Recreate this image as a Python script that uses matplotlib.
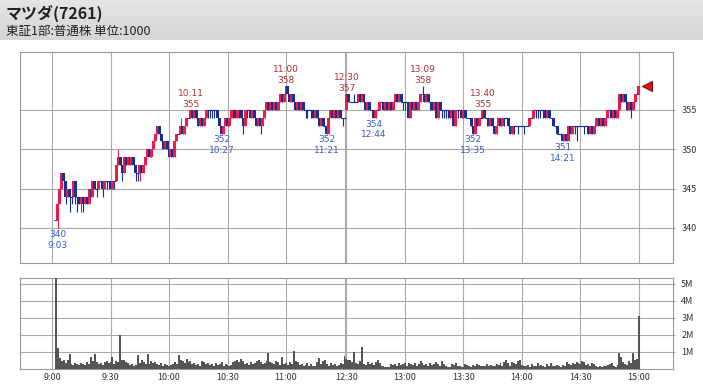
import numpy as np
import matplotlib.pyplot as plt

plt.rcParams['font.family'] = ['Noto Sans CJK JP', 'DejaVu Sans']

# ---- data: 1-minute bars, close prices (open = previous close) ----
# morning 9:02 .. 11:30
am_start = 2
am_open0 = 341
am_close = [341, 343, 345, 347, 346, 344, 345, 344, 344, 346, 344, 344, 343, 344, 343, 344, 343, 345,
            344, 346, 345, 345, 346, 346, 345, 346, 346, 346, 345, 346, 346, 348, 349, 348, 347, 349,
            348, 349, 348, 349, 348, 347, 347, 348, 347, 348, 349, 350, 349, 350, 351, 352, 353, 352,
            351, 350, 351, 350, 349, 350, 349, 351, 352, 352, 353, 352, 353, 354, 354, 355, 354, 355,
            354, 353, 354, 353, 354, 355, 355, 355, 355, 355, 355, 354, 353, 352, 353, 354, 353, 354,
            355, 355, 354, 355, 355, 354, 353, 355, 355, 355, 354, 355, 354, 353, 354, 353, 354, 355,
            356, 355, 356, 355, 356, 355, 356, 357, 356, 357, 358, 357, 356, 357, 356, 355, 356, 355,
            356, 355, 355, 355, 355, 355, 354, 355, 354, 353, 354, 353, 353, 352, 354, 355, 354, 355,
            354, 355, 354, 354, 354]
am_low = {3: 340, 7: 343, 9: 342, 10: 343, 12: 343, 13: 342, 15: 342, 16: 342, 23: 344, 26: 344,
          28: 345, 29: 345, 32: 345, 36: 346, 43: 346, 44: 346, 45: 346, 80: 354, 81: 354, 82: 354,
          83: 354, 93: 354, 96: 354, 98: 352, 100: 354, 107: 352, 130: 354, 131: 354, 133: 354, 149: 353}
am_high = {2: 342, 34: 350, 55: 353, 66: 354, 111: 356}

# afternoon 12:30 .. 15:00
pm_open0 = 355
pm_close = [357, 356, 356, 356, 356, 356, 357, 356, 357, 356, 355, 356, 355, 355, 354, 355, 355, 356,
            356, 355, 356, 355, 356, 355, 356, 357, 356, 357, 356, 356, 356, 356, 354, 356, 355, 356,
            355, 356, 357, 357, 356, 357, 356, 356, 355, 356, 354, 356, 355, 355, 355, 355, 355, 354,
            355, 353, 355, 355, 355, 354, 355, 354, 354, 354, 353, 352, 354, 353, 354, 354, 355, 354,
            354, 353, 354, 353, 352, 353, 354, 353, 354, 354, 354, 353, 352, 353, 353, 353, 353, 353,
            353, 353, 353, 353, 354, 354, 355, 355, 355, 355, 355, 355, 354, 355, 354, 354, 353, 353,
            352, 352, 352, 351, 352, 351, 353, 352, 353, 353, 353, 353, 353, 353, 353, 353, 352, 353,
            352, 353, 354, 354, 353, 354, 353, 354, 355, 355, 354, 355, 354, 355, 357, 356, 357, 356,
            355, 356, 355, 356, 357, 357, 358]
pm_low = {14: 354, 29: 355, 30: 355, 43: 355, 49: 354, 50: 354, 51: 354, 52: 354, 57: 354, 72: 353,
          81: 353, 86: 352, 88: 352, 91: 352, 97: 354, 98: 354, 99: 354, 101: 354, 117: 352, 118: 351,
          122: 352, 129: 353, 135: 354, 146: 354}
pm_high = {4: 357, 16: 356, 39: 358, 70: 355}

# volume, in 10k shares
am_vol = [620, 124, 65, 45, 55, 35, 55, 88, 30, 25, 35, 30, 25, 35, 30, 25, 40, 30, 70, 45, 88, 40, 30,
          35, 25, 40, 45, 35, 40, 70, 30, 45, 40, 200, 55, 50, 40, 35, 25, 30, 20, 25, 85, 35, 50, 40,
          30, 88, 30, 45, 35, 40, 30, 25, 35, 20, 30, 25, 15, 25, 30, 40, 30, 80, 50, 45, 35, 60, 40,
          45, 30, 35, 25, 30, 20, 45, 40, 30, 35, 25, 30, 20, 35, 25, 30, 40, 15, 30, 25, 20, 25, 40,
          45, 55, 40, 60, 45, 30, 35, 25, 40, 30, 35, 45, 50, 40, 30, 35, 45, 96, 40, 35, 30, 45, 40,
          25, 70, 30, 35, 25, 40, 30, 108, 45, 40, 25, 30, 20, 25, 35, 20, 30, 15, 20, 40, 65, 30, 45,
          55, 30, 20, 35, 25, 30, 20, 25, 35, 30, 75]
pm_vol = [60, 50, 55, 40, 100, 35, 30, 45, 127, 30, 25, 40, 30, 35, 25, 40, 55, 35, 20, 15, 10, 10, 10,
          30, 25, 30, 20, 35, 25, 30, 35, 20, 35, 30, 25, 35, 20, 30, 45, 35, 25, 30, 20, 35, 25, 30, 40,
          30, 20, 45, 30, 20, 10, 10, 30, 25, 35, 20, 15, 10, 10, 30, 25, 20, 10, 25, 20, 30, 25, 15, 20,
          15, 30, 20, 25, 15, 20, 30, 25, 35, 20, 40, 50, 35, 20, 40, 35, 30, 45, 50, 25, 20, 15, 25, 10,
          30, 20, 15, 35, 20, 25, 15, 10, 30, 20, 35, 20, 15, 25, 20, 10, 25, 20, 40, 30, 25, 35, 30, 40,
          35, 30, 45, 40, 25, 30, 20, 35, 30, 15, 10, 20, 10, 15, 20, 25, 30, 35, 20, 10, 25, 92, 70, 40,
          30, 25, 45, 35, 92, 50, 60, 314]

time_ticks = ['9:00', '9:30', '10:00', '10:30', '11:00', '', '12:30', '13:00', '13:30', '14:00', '14:30', '15:00']
tick_slots = [0, 30, 60, 90, 120, 150, 151, 181, 211, 241, 271, 301]

# high / low labels: (slot, price, time text)
highs = [(71, 355, '10:11'), (120, 358, '11:00'), (151, 357, '12:30'), (190, 358, '13:09'), (221, 355, '13:40')]
lows = [(3, 340, '9:03'), (87, 352, '10:27'), (141, 352, '11:21'), (165, 354, '12:44'), (216, 352, '13:35'), (262, 351, '14:21')]

RED = '#f0194a'
BLUE = '#14318f'
W, H = 703, 385

fig = plt.figure(figsize=(W / 100, H / 100), dpi=100)
fig.patch.set_facecolor('white')

# header band
hdr = fig.add_axes([0, 1 - 40 / H, 1, 40 / H])
grad = np.linspace(0, 1, 40).reshape(-1, 1)
hdr.imshow(grad, aspect='auto', cmap=plt.matplotlib.colors.LinearSegmentedColormap.from_list('g', ['#e4e4e4', '#d6d6d6']),
           extent=[0, 1, 0, 1])
hdr.axis('off')
fig.text(6 / W, 1 - 13 / H, 'マツダ(7261)', fontsize=11.5, fontweight='bold', color='#222222', va='center')
fig.text(6 / W, 1 - 31 / H, '東証1部:普通株 単位:1000', fontsize=9, color='#222222', va='center')

ax = fig.add_axes([20 / W, 1 - 263 / H, 653 / W, 211 / H])
axv = fig.add_axes([20 / W, 1 - 369 / H, 653 / W, 91 / H])


def bars(closes, open0, start, offset, lows_x, highs_x):
    o = open0
    for i, c in enumerate(closes):
        m = start + i
        x = offset + m
        lo = lows_x.get(m, min(o, c))
        hi = highs_x.get(m, max(o, c))
        if c > o:
            col = RED
        else:
            col = BLUE
        if hi > lo:
            ax.vlines(x, lo, hi, color=col, lw=0.8, zorder=3)
        if c == o:
            ax.hlines(c, x - 0.8, x + 0.8, color=BLUE, lw=0.8, zorder=3)
        else:
            ax.bar(x, c - o, bottom=o, width=1.5, color=col, lw=0, zorder=4)
        o = c


bars(am_close, am_open0, am_start, 0, am_low, am_high)
bars(pm_close, pm_open0, 0, 151, pm_low, pm_high)

for s, p, t in highs:
    ax.annotate(str(p), (s, p), xytext=(0, 4.1), textcoords='offset points', ha='center', va='center',
                fontsize=6.5, color='#a83232', family='DejaVu Sans')
    ax.annotate(t, (s, p), xytext=(0, 12), textcoords='offset points', ha='center', va='center',
                fontsize=6.5, color='#a83232', family='DejaVu Sans')
for s, p, t in lows:
    ax.annotate(str(p), (s, p), xytext=(0, -4.5), textcoords='offset points', ha='center', va='center',
                fontsize=6.5, color='#3a5cc4', family='DejaVu Sans')
    ax.annotate(t, (s, p), xytext=(0, -12.3), textcoords='offset points', ha='center', va='center',
                fontsize=6.5, color='#3a5cc4', family='DejaVu Sans')

# last price marker
ax.plot([305], [pm_close[-1]], marker='<', markersize=7, color='#ee1111', markeredgecolor='#661111',
        markeredgewidth=0.8, zorder=5, clip_on=False)

am_slots = np.arange(am_start, am_start + len(am_vol))
pm_slots = np.arange(151, 151 + len(pm_vol))
axv.bar(am_slots, am_vol, width=1.0, color='#555555', lw=0, zorder=3)
axv.bar(pm_slots, pm_vol, width=1.0, color='#555555', lw=0, zorder=3)

xlim = (-32 / 1.95, 621 / 1.95)
for a in (ax, axv):
    a.set_xlim(*xlim)
    a.set_xticks(tick_slots)
    a.grid(True, color='#aaaaaa', lw=0.8, zorder=0)
    a.set_axisbelow(True)
    a.yaxis.tick_right()
    a.tick_params(axis='y', length=1.6, pad=4.3, colors='#999999', labelcolor='#333333', labelsize=6.5)
    a.tick_params(axis='x', length=0, pad=3.2, labelcolor='#333333', labelsize=6.5)
    for sp in a.spines.values():
        sp.set_color('#999999')
        sp.set_linewidth(0.8)

ax.set_ylim(335.55, 362.37)
ax.set_yticks([340, 345, 350, 355])
ax.set_xticklabels([])

axv.set_ylim(0, 535)
axv.set_yticks([100, 200, 300, 400, 500])
axv.set_yticklabels(['1M', '2M', '3M', '4M', '5M'])
axv.set_xticklabels(time_ticks)

fig.savefig('out.png', dpi=100)
